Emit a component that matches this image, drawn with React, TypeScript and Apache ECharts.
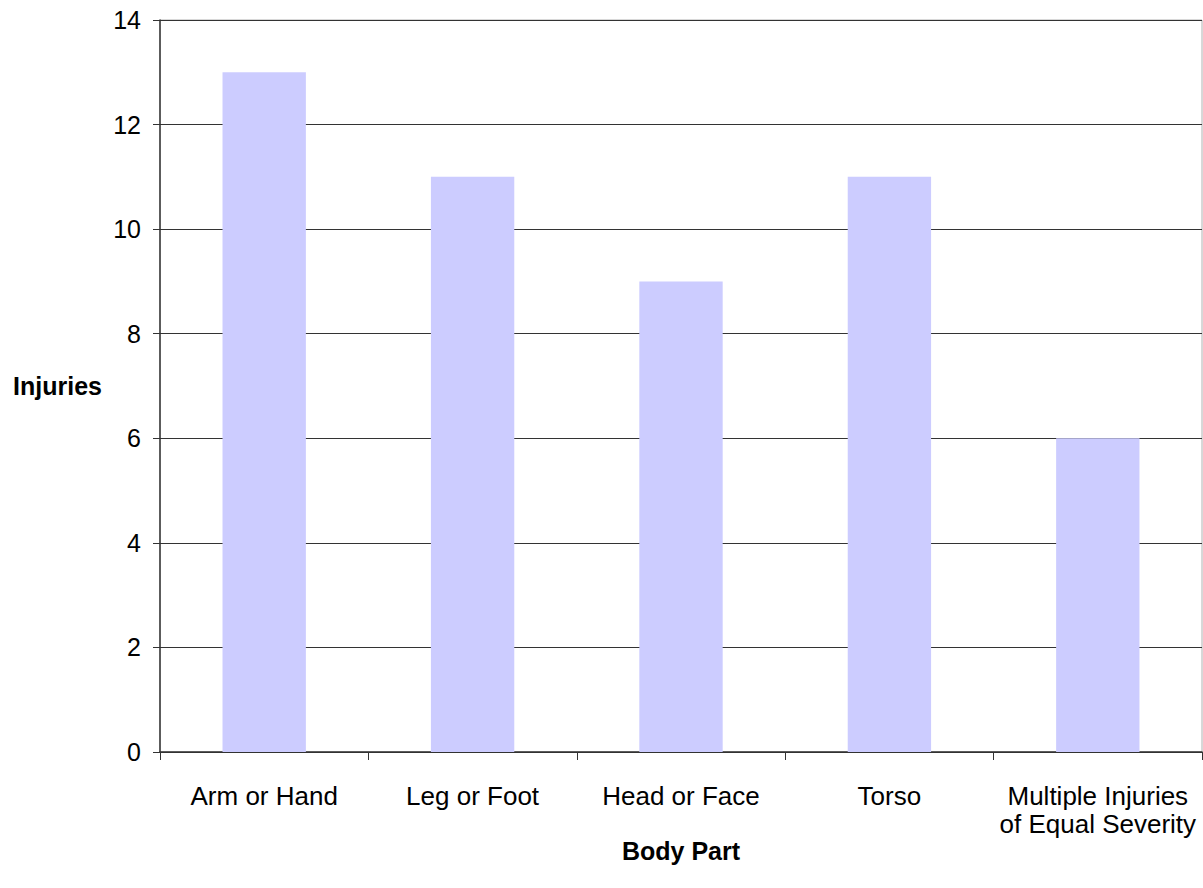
import React, { useEffect, useRef } from "react";
import * as echarts from "echarts";

const categories = ["Arm or Hand", "Leg or Foot", "Head or Face", "Torso", "Multiple Injuries\nof Equal Severity"];
const injuries = [13, 11, 9, 11, 6];

export default function App() {
  const ref = useRef<HTMLDivElement>(null);
  useEffect(() => {
    const chart = echarts.init(ref.current!, null, { renderer: "svg" });
    const font = "'Liberation Sans', Arial, sans-serif";
    chart.setOption({
      animation: false,
      textStyle: { fontFamily: font },
      grid: {
        left: 160, top: 20, right: 1, bottom: 136,
        show: true, borderColor: "#b0b0b0", borderWidth: 1, backgroundColor: "transparent",
      },
      xAxis: {
        type: "category",
        data: categories,
        name: "Body Part",
        nameLocation: "middle",
        nameGap: 86,
        nameMoveOverlap: false,
        nameTextStyle: { fontSize: 25, fontWeight: "bold", color: "#000", fontFamily: font },
        axisLine: { lineStyle: { color: "#333", width: 1.5 } },
        axisTick: { show: true, alignWithLabel: false, length: 8, lineStyle: { color: "#333" } },
        axisLabel: { fontSize: 26, color: "#000", margin: 30, lineHeight: 28, fontFamily: font, interval: 0 },
      },
      yAxis: {
        type: "value",
        min: 0, max: 14, interval: 2,
        name: "Injuries",
        nameLocation: "middle",
        nameRotate: 0,
        nameGap: 58,
        nameMoveOverlap: false,
        nameTextStyle: { fontSize: 25, fontWeight: "bold", color: "#000", fontFamily: font, align: "right" },
        axisLine: { show: true, lineStyle: { color: "#333", width: 1.5 } },
        axisTick: { show: true, length: 7, lineStyle: { color: "#333" } },
        axisLabel: { fontSize: 25, color: "#000", margin: 19, fontFamily: font },
        splitLine: { show: true, lineStyle: { color: "#333", width: 1 } },
      },
      series: [
        {
          type: "bar",
          data: injuries,
          barWidth: "40%",
          itemStyle: { color: "#ccccff" },
        },
      ],
    });
    return () => chart.dispose();
  }, []);
  return <div ref={ref} style={{ position: "absolute", left: 0, top: 0, width: 1203, height: 888, background: "#fff" }} />;
}
